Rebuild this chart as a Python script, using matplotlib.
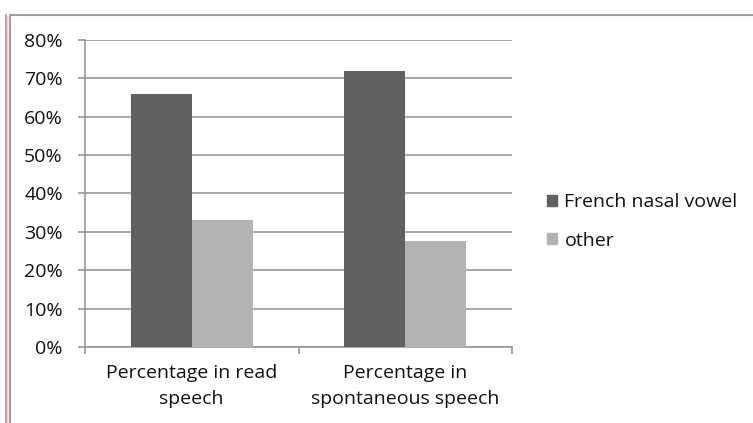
import numpy as np
import matplotlib
matplotlib.use('Agg')
import matplotlib.pyplot as plt
from matplotlib.lines import Line2D
from matplotlib.patches import Patch

categories = ['Percentage in read\nspeech', 'Percentage in\nspontaneous speech']
series_names = ['French nasal vowel', 'other']
nasal = [66, 72]
other = [33, 27.5]
yticks = [0, 10, 20, 30, 40, 50, 60, 70, 80]

plt.rcParams['font.family'] = ['Open Sans', 'DejaVu Sans']
fs = 14

fig = plt.figure(figsize=(7.53, 4.23), dpi=100)
ax = fig.add_axes([85/753, 1-347/423, (512-85)/753, (347-40)/423])

grid_c = '#989898'
x = np.arange(len(categories))
w = 0.285
ax.bar(x - w/2, nasal, w, color='#606060', zorder=3)
ax.bar(x + w/2, other, w, color='#b3b3b3', zorder=3)

ax.set_xlim(-0.5, 1.5)
ax.set_ylim(0, 80)
ax.set_yticks(yticks)
ax.set_yticklabels([f'{v}%' for v in yticks], fontsize=fs, color='#111111')
ax.yaxis.grid(True, color=grid_c, linewidth=1.2, zorder=0)

ax.set_xticks([-0.5, 0.5, 1.5])
ax.set_xticklabels([])
ax.set_xticks(x, minor=True)
ax.set_xticklabels(categories, minor=True, fontsize=fs, linespacing=1.55, color='#111111')
ax.tick_params(axis='x', which='minor', length=0, pad=12.5)
ax.tick_params(axis='x', which='major', length=5, color=grid_c, width=1.2)
ax.tick_params(axis='y', length=5, color=grid_c, width=1.2, pad=11)

for s in ['top', 'right']:
    ax.spines[s].set_visible(False)
for s in ['left', 'bottom']:
    ax.spines[s].set_color(grid_c)
    ax.spines[s].set_linewidth(1.2)

handles = [Patch(color='#606060'), Patch(color='#b3b3b3')]
leg = fig.legend(handles, series_names, loc='center left', bbox_to_anchor=(547/753, 1-221.5/423),
                 frameon=False, fontsize=fs, handlelength=0.5, handleheight=0.5,
                 handletextpad=0.4, labelspacing=1.05, borderpad=0, borderaxespad=0)
for t in leg.get_texts():
    t.set_color('#111111')

# outer frame
top = 1 - 15/423
fig.add_artist(Line2D([10/753, 1], [top, top], color='#a0a0a0', linewidth=1.5))
fig.add_artist(Line2D([10/753, 10/753], [0, top], color='#a0a0a0', linewidth=1.5))
fig.add_artist(Line2D([6.5/753, 6.5/753], [0, top], color='#ff7070', linewidth=1.2))

fig.savefig('out.png', dpi=100)
